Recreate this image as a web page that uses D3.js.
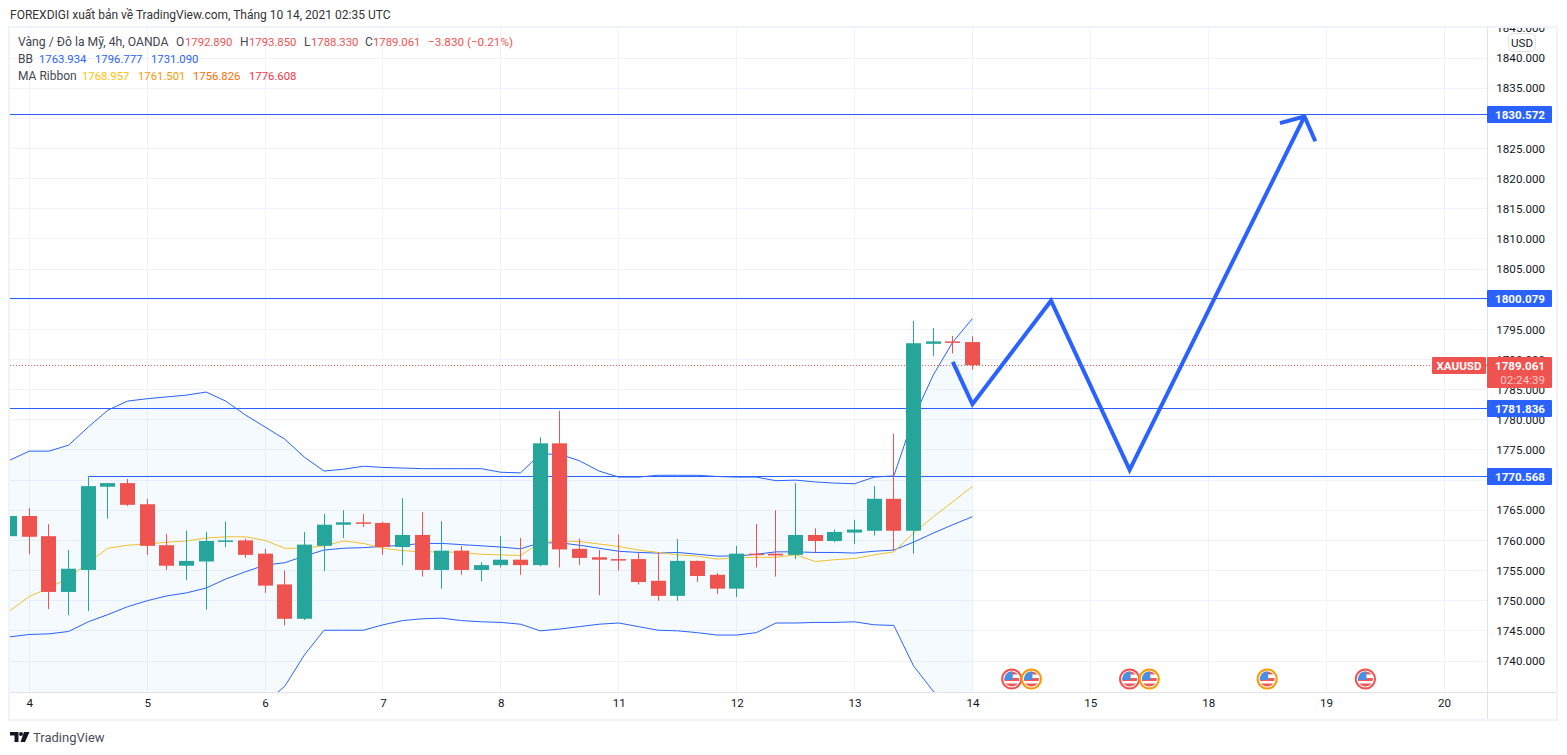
<!DOCTYPE html>
<html>
<head>
<meta charset="utf-8">
<title>XAUUSD 4h</title>
<script src="https://cdn.jsdelivr.net/npm/d3@7"></script>
<style>
  body { margin: 0; background: #fff; }
  svg { display: block; }
  text { font-family: Roboto, "Noto Sans", sans-serif; font-size: 12px; fill: #131722; }
  .axis text { font-size: 11.6px; fill: #131722; }
  .axis .domain, .axis line { display: none; }
</style>
</head>
<body>
<svg id="chart" width="1567" height="755"></svg>
<script>
// first entry is the partly hidden bar left of the "4" tick
const firstBar = -1;
const opens = [1760.7,1764.05,1760.7,1751.45,1755.1,1768.9,1769.5,1766,1759.2,1755.8,1756.5,1759.9,1760,1757.8,1752.7,1747,1759.1,1762.6,1763,1762.9,1758.9,1760.9,1755.1,1758.3,1755.1,1755.9,1756.8,1755.9,1776.1,1758.6,1757.2,1756.9,1756.9,1753.3,1750.8,1756.6,1754.3,1752,1757.8,1757.8,1757.6,1760.9,1759.9,1761.3,1761.6,1766.9,1761.6,1792.6,1793,1792.89];
const highs = [1765.7,1765.4,1762.7,1758.4,1770.6,1769.5,1770.2,1766.9,1761.1,1761.6,1761.4,1763.1,1760.3,1758.6,1755,1761.4,1764.4,1765,1764.4,1763.1,1767,1764.7,1763.2,1759.1,1756.4,1760.7,1760.4,1777.1,1781.5,1760.3,1758.4,1761,1757.9,1758,1760.2,1756.7,1754.6,1759.1,1762.7,1765,1769.5,1762,1761.8,1763.4,1769,1777.7,1796.4,1795.2,1793.9,1793.85];
const lows = [1760.3,1757.7,1748.6,1747.6,1748.3,1763.6,1765.7,1757.6,1755.1,1753.4,1748.5,1758.9,1757.1,1751.3,1745.9,1746.8,1754.9,1760.4,1762.2,1757.6,1755.9,1754,1752,1754.3,1753.2,1755.5,1754.3,1755.7,1755.5,1755.9,1750.9,1755,1752.7,1750,1750,1753.1,1751.1,1750.6,1755.5,1754,1756.9,1757.9,1759.7,1759.4,1760.8,1758.3,1757.8,1790.6,1791,1788.33];
const closes = [1764.05,1760.6,1751.45,1755.3,1769,1769.5,1765.9,1759.1,1755.8,1756.6,1759.9,1760,1757.6,1752.5,1747,1759.3,1762.6,1763,1762.9,1758.9,1760.9,1755.1,1758.3,1755.1,1755.9,1756.8,1755.9,1776.1,1758.5,1757.1,1756.8,1756.8,1753.1,1750.8,1756.6,1754.1,1752,1757.8,1757.6,1757.5,1760.9,1759.9,1761.4,1761.8,1766.9,1761.6,1792.7,1793,1792.8,1789.061];

const bbUpper = [1773.3,1774.8,1774.8,1775.8,1778.8,1781.6,1783.1,1783.5,1783.8,1784.1,1784.6,1783.1,1780.8,1778.8,1776.8,1773.8,1771.5,1771.8,1772.3,1772.1,1772,1771.9,1771.9,1771.9,1771.9,1771.3,1771.2,1774.3,1774.3,1773.2,1771.5,1770.5,1770.5,1770.8,1770.8,1770.8,1770.6,1770.5,1770.5,1769.9,1770,1769.7,1769.5,1769.4,1770.5,1770.7,1780.3,1787.4,1792.9,1796.777];
const bbBasis = [1744,1744.4,1744.5,1744.9,1746.5,1747.7,1749,1750,1750.8,1751.3,1752.1,1753.6,1754.8,1755.9,1756.3,1757.4,1758.4,1758.7,1758.8,1759,1759.2,1759.5,1759.5,1759.3,1759.1,1758.9,1758.6,1759.6,1759.6,1759.2,1758.7,1758.2,1758,1757.9,1758,1757.7,1757.4,1757.4,1757.7,1758.1,1758.1,1758,1758,1757.9,1758.2,1758.4,1759.7,1761.2,1762.6,1763.934];
const bbLower = [1714.7,1714,1714.2,1714,1714.2,1713.8,1714.9,1716.5,1717.8,1718.5,1719.6,1724.1,1728.8,1733,1735.8,1741,1745.1,1745.1,1745.1,1746,1746.7,1747,1747.1,1746.7,1746.5,1746.4,1746.1,1745,1745.3,1745.7,1746.1,1746.3,1745.7,1745.1,1745,1744.7,1744.3,1744.3,1744.7,1746.3,1746.3,1746.4,1746.4,1746.5,1746,1745.9,1739.2,1735,1732.3,1731.09];
const maRibbon = [1748.3,1750.7,1752.1,1753.8,1756.3,1758.7,1759.2,1759.4,1759.7,1759.9,1760.4,1760.6,1760.6,1760,1758.7,1758.7,1759.1,1759.9,1759.5,1758.7,1758.3,1758.1,1758.1,1758,1757.7,1757.6,1757.5,1759.6,1759.9,1759.8,1759.4,1759,1758.4,1758,1757.6,1757.4,1756.9,1757.1,1757.2,1757.2,1757.6,1756.5,1756.8,1757,1757.6,1758.1,1761.2,1763.9,1766.4,1768.957];

const priceTicks = d3.range(1740, 1846, 5);
// these three labels sit fully behind a price tag
const hiddenLabels = [1770, 1800, 1830];
const timeBars = [0, 6, 12, 18, 24, 30, 36, 42, 48, 54, 60, 66, 72];
const timeLabels = ["4", "5", "6", "7", "8", "11", "12", "13", "14", "15", "18", "19", "20"];

const levels = [1830.572, 1800.079, 1781.836, 1770.568];
const levelStartBars = [null, null, null, 3];
const lastPrice = 1789.061;

const pathBars = [47, 48, 52, 56, 64.9];
const pathPrices = [1789.6, 1782.6, 1799.75, 1771.7, 1830.3];
const headBars = [63.65, 64.9, 65.45];
const headPrices = [1829.2, 1830.3, 1826.2];

const eventBars = [50, 51, 56, 57, 63, 68];
const eventRings = ["#ef5350", "#ff9800", "#ef5350", "#ff9800", "#ff9800", "#ef5350"];

const paneLeft = 10, paneRight = 1487, paneTop = 28, paneBottom = 692;
const blue = "#2962ff", up = "#26a69a", down = "#ef5350", grid = "#f0f3fa";

const x = d3.scaleLinear().domain([0, 72]).range([29.3, 1444]);
const y = d3.scaleLinear().domain([1740, 1840]).range([661, 58]);
const barX = (d, i) => x(i + firstBar);

const svg = d3.select("#chart");
svg.append("defs").append("clipPath").attr("id", "pane")
  .append("rect").attr("x", paneLeft).attr("y", paneTop).attr("width", paneRight - paneLeft).attr("height", paneBottom - paneTop);
svg.select("defs").append("clipPath").attr("id", "scale")
  .append("rect").attr("x", 0).attr("y", paneTop).attr("width", 1567).attr("height", paneBottom - paneTop);
svg.select("defs").append("clipPath").attr("id", "flag").append("circle").attr("r", 7.5);

// grid
svg.append("g").selectAll("line").data(priceTicks).join("line")
  .attr("x1", paneLeft).attr("x2", paneRight).attr("y1", (d) => Math.floor(y(d)) + 0.5).attr("y2", (d) => Math.floor(y(d)) + 0.5)
  .attr("stroke", grid).attr("clip-path", "url(#pane)");
svg.append("g").selectAll("line").data(timeBars).join("line")
  .attr("x1", (d) => Math.floor(x(d)) + 0.5).attr("x2", (d) => Math.floor(x(d)) + 0.5).attr("y1", paneTop).attr("y2", paneBottom)
  .attr("stroke", grid);

const pane = svg.append("g").attr("clip-path", "url(#pane)");

// bollinger band
pane.append("path").datum(bbUpper)
  .attr("d", d3.area().x(barX).y0((d, i) => y(bbLower[i])).y1((d) => y(d)))
  .attr("fill", "#2196f3").attr("fill-opacity", 0.05);

const line = d3.line().x(barX).y((d) => y(d));
[bbUpper, bbLower, bbBasis].forEach((series) => {
  pane.append("path").datum(series).attr("d", line).attr("fill", "none").attr("stroke", blue).attr("stroke-width", 1);
});
pane.append("path").datum(maRibbon).attr("d", line).attr("fill", "none").attr("stroke", "#f2c12e").attr("stroke-width", 1);

// last price line
pane.append("line").attr("x1", paneLeft).attr("x2", paneRight)
  .attr("y1", Math.floor(y(lastPrice)) + 0.5).attr("y2", Math.floor(y(lastPrice)) + 0.5)
  .attr("stroke", down).attr("stroke-dasharray", "1 2");

// drawn levels, candles stay on top of them
pane.append("g").selectAll("line").data(levels).join("line")
  .attr("x1", (d, i) => levelStartBars[i] === null ? paneLeft : x(levelStartBars[i]))
  .attr("x2", paneRight)
  .attr("y1", (d) => Math.floor(y(d)) + 0.5).attr("y2", (d) => Math.floor(y(d)) + 0.5)
  .attr("stroke", blue).attr("stroke-width", 1.1);

// candles
const candles = pane.append("g").selectAll("g").data(opens).join("g")
  .attr("fill", (d, i) => closes[i] >= d ? up : down);
candles.append("rect")
  .attr("x", (d, i) => Math.floor(barX(d, i)))
  .attr("width", 1)
  .attr("y", (d, i) => y(highs[i]))
  .attr("height", (d, i) => y(lows[i]) - y(highs[i]));
candles.append("rect")
  .attr("x", (d, i) => Math.floor(barX(d, i)) - 7)
  .attr("width", 15)
  .attr("y", (d, i) => y(Math.max(d, closes[i])))
  .attr("height", (d, i) => Math.max(1.5, Math.abs(y(d) - y(closes[i]))));

// forecast arrow
const arrow = d3.line().x((d) => x(d[0])).y((d) => y(d[1]));
pane.append("path").attr("d", arrow(d3.zip(pathBars, pathPrices)))
  .attr("fill", "none").attr("stroke", blue).attr("stroke-width", 4);
pane.append("path").attr("d", arrow(d3.zip(headBars, headPrices)))
  .attr("fill", "none").attr("stroke", blue).attr("stroke-width", 4);

// economic event flags
const flags = pane.append("g").selectAll("g").data(eventBars).join("g")
  .attr("transform", (d) => `translate(${x(d)},679)`);
flags.append("circle").attr("r", 9.6).attr("fill", "#fff")
  .attr("stroke", (d, i) => eventRings[i]).attr("stroke-width", 2);
const flagInner = flags.append("g").attr("clip-path", "url(#flag)");
flagInner.append("rect").attr("x", -8).attr("y", -8).attr("width", 16).attr("height", 16).attr("fill", "#fff");
flagInner.append("rect").attr("x", -8).attr("y", -1).attr("width", 16).attr("height", 3).attr("fill", "#f0585a");
flagInner.append("rect").attr("x", -8).attr("y", 4.5).attr("width", 16).attr("height", 4).attr("fill", "#f0585a");
flagInner.append("rect").attr("x", -8).attr("y", -8).attr("width", 16).attr("height", 3.5).attr("fill", "#f0585a");
flagInner.append("rect").attr("x", -8).attr("y", -8).attr("width", 9).attr("height", 9).attr("fill", "#4a90e2");

// frame
const frame = svg.append("g").attr("fill", "none");
frame.append("rect").attr("x", 9).attr("y", 27).attr("width", 1548).attr("height", 693).attr("stroke", grid).attr("stroke-width", 2);
frame.append("line").attr("x1", paneRight + 0.5).attr("x2", paneRight + 0.5).attr("y1", paneTop).attr("y2", 719).attr("stroke", "#e0e3eb");
frame.append("line").attr("x1", paneLeft).attr("x2", 1556).attr("y1", paneBottom + 0.5).attr("y2", paneBottom + 0.5).attr("stroke", "#e0e3eb");

// axes
svg.append("g").attr("class", "axis").attr("clip-path", "url(#scale)")
  .call(d3.axisLeft(y).tickValues(priceTicks.filter((d) => !hiddenLabels.includes(d))).tickFormat(d3.format(".3f")).tickSize(0).tickPadding(0))
  .selectAll(".tick text").attr("x", 1545);
svg.append("g").attr("class", "axis")
  .attr("transform", "translate(0,699)")
  .call(d3.axisBottom(x).tickValues(timeBars).tickFormat((d, i) => timeLabels[i]).tickSize(0).tickPadding(0));

// USD button
svg.append("rect").attr("x", 1508.5).attr("y", 33.5).attr("width", 27).attr("height", 18).attr("rx", 4)
  .attr("fill", "#fff").attr("stroke", "#e0e3eb");
svg.append("text").attr("x", 1522).attr("y", 47).attr("text-anchor", "middle").style("font-size", "11.6px").text("USD");

// price labels
levels.forEach((d) => {
  svg.append("rect").attr("x", paneRight).attr("y", Math.floor(y(d)) - 8).attr("width", 65).attr("height", 17).attr("rx", 1).attr("fill", blue);
  svg.append("text").attr("x", 1545).attr("y", Math.floor(y(d)) + 4.5).attr("text-anchor", "end")
    .style("fill", "#fff").style("font-weight", 700).style("font-size", "11.6px").text(d3.format(".3f")(d));
});
svg.append("rect").attr("x", 1432).attr("y", 357).attr("width", 54).attr("height", 17).attr("rx", 1).attr("fill", down);
svg.append("text").attr("x", 1459).attr("y", 370).attr("text-anchor", "middle")
  .style("fill", "#fff").style("font-weight", 700).style("font-size", "11.6px").text("XAUUSD");
svg.append("rect").attr("x", paneRight).attr("y", 357).attr("width", 65).attr("height", 31).attr("rx", 1).attr("fill", down);
svg.append("text").attr("x", 1545).attr("y", 370).attr("text-anchor", "end")
  .style("fill", "#fff").style("font-weight", 700).style("font-size", "11.6px").text(d3.format(".3f")(lastPrice));
svg.append("text").attr("x", 1545).attr("y", 384).attr("text-anchor", "end")
  .style("fill", "#fff").style("fill-opacity", 0.7).style("font-size", "11.6px").text("02:24:39");

// title and legend
svg.append("text").attr("x", 10).attr("y", 19).style("fill", "#333").text("FOREXDIGI xuất bản về TradingView.com, Tháng 10 14, 2021 02:35 UTC");

const legendItems = [
  [18, 46, "Vàng / Đô la Mỹ, 4h, OANDA", "#434651", 12.2],
  [176, 46, "O", "#434651", 12], [185, 46, "1792.890", down, 11.3],
  [240, 46, "H", "#434651", 12], [249, 46, "1793.850", down, 11.3],
  [304, 46, "L", "#434651", 12], [311, 46, "1788.330", down, 11.3],
  [365, 46, "C", "#434651", 12], [373, 46, "1789.061", down, 11.3],
  [428, 46, "−3.830 (−0.21%)", down, 11.7],
  [18, 63, "BB", "#434651", 12], [39, 63, "1763.934", blue, 11.3], [95, 63, "1796.777", blue, 11.3], [151, 63, "1731.090", blue, 11.3],
  [18, 80, "MA Ribbon", "#434651", 12], [82, 80, "1768.957", "#ffc107", 11.3], [138, 80, "1761.501", "#ff9800", 11.3],
  [193, 80, "1756.826", "#ff6d00", 11.3], [249, 80, "1776.608", "#f23645", 11.3]
];
svg.append("g").selectAll("text").data(legendItems).join("text")
  .attr("x", (d) => d[0]).attr("y", (d) => d[1]).style("fill", (d) => d[3]).style("font-size", (d) => `${d[4]}px`).text((d) => d[2]);

// footer logo
const logo = svg.append("g").attr("fill", "#131722");
logo.append("path").attr("d", "M10 732h8.5v10h-4v-6.5h-4.5z");
logo.append("circle").attr("cx", 21).attr("cy", 734).attr("r", 2);
logo.append("path").attr("d", "M24 732h5.5l-4.5 10h-4.5z");
svg.append("text").attr("x", 33).attr("y", 742).style("font-size", "13px").style("fill", "#4a4e59").text("TradingView");
</script>
</body>
</html>
